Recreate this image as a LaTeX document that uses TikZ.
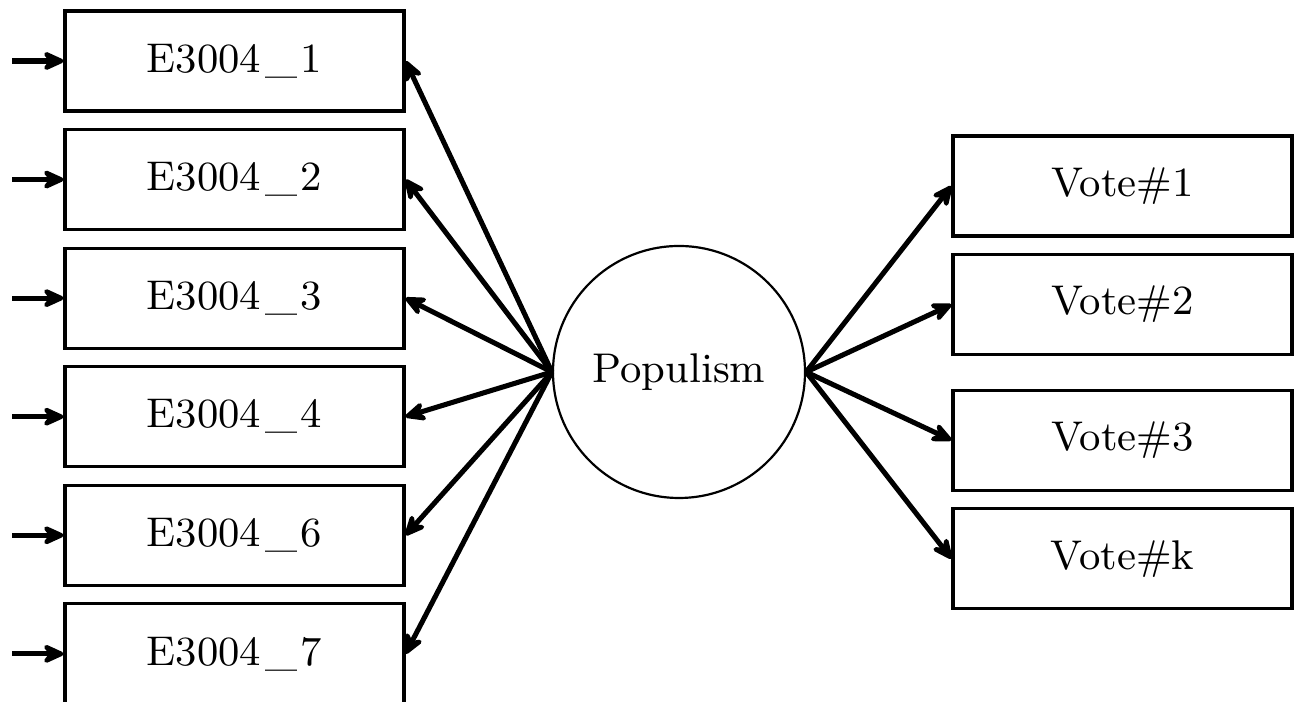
\documentclass[tikz,border=0pt]{standalone}
\usetikzlibrary{positioning, arrows.meta}
\newcommand{\us}{\kern0.9pt\_\kern0.9pt}
\tikzset{
    >={Stealth[length=6.2pt, width=5.6pt, inset=2.2pt, round]}, % arrow heads
    every node/.style={font=\fontsize{9.45pt}{11pt}\selectfont},
    indicator/.style={draw, line width=0.7pt, minimum width=2.712cm, minimum height=0.8cm}, % observed variables
    latent/.style={draw, circle, line width=0.5pt, minimum size=2.016cm}, % latent factor
    path/.style={->, line width=1.15pt}, % loadings and effects
}
\begin{document}
\begin{tikzpicture}
    \useasboundingbox (0,0) rectangle (10.384,-5.616);

    \node[latent] (pop) at (5.432,-2.976) {Populism};

    % items of the populism scale
    \node[indicator] (e1) at (1.876,-0.488) {E3004\us 1};
    \node[indicator, below=0.124cm of e1] (e2) {E3004\us 2};
    \node[indicator, below=0.124cm of e2] (e3) {E3004\us 3};
    \node[indicator, below=0.124cm of e3] (e4) {E3004\us 4};
    \node[indicator, below=0.124cm of e4] (e6) {E3004\us 6};
    \node[indicator, below=0.124cm of e6] (e7) {E3004\us 7};

    % vote outcomes
    \node[indicator] (v1) at (8.98,-1.488) {Vote\#1};
    \node[indicator, below=0.124cm of v1] (v2) {Vote\#2};
    \node[indicator, below=0.26cm of v2] (v3) {Vote\#3};
    \node[indicator, below=0.124cm of v3] (vk) {Vote\#k};

    \foreach \e in {e1,e2,e3,e4,e6,e7} {
        \coordinate[left=0.41cm of \e.west] (err-\e);
        \draw[path] (err-\e) -- (\e.west);
        \draw[path] (pop.west) -- (\e.east);
    }
    \foreach \v in {v1,v2,v3,vk}
        \draw[path] (pop.east) -- (\v.west);
\end{tikzpicture}
\end{document}
